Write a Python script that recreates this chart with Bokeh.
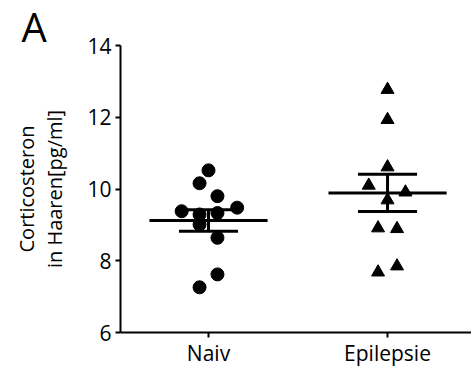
from bokeh.plotting import figure
from bokeh.models import FixedTicker
from bokeh.embed import file_html
from bokeh.resources import INLINE

# ---- data ----
categories = ["Naiv", "Epilepsie"]

naiv_values = [10.52, 10.16, 9.80, 9.48, 9.38, 9.33, 9.29, 9.01, 8.64, 7.62, 7.26]
naiv_jitter = [0.0, -0.05, 0.05, 0.16, -0.15, 0.05, -0.05, -0.05, 0.05, 0.05, -0.05]

epi_values = [12.77, 11.93, 10.61, 10.10, 9.91, 9.69, 8.91, 8.89, 7.68, 7.85]
epi_jitter = [0.0, 0.0, 0.0, -0.105, 0.10, 0.0, -0.053, 0.053, -0.053, 0.053]

group_means = [9.12, 9.89]
group_sems = [0.30, 0.52]

y_ticks = [6, 8, 10, 12, 14]

FONT = "Open Sans"

p = figure(width=471, height=369, output_backend="svg", toolbar_location=None,
           x_range=(-0.4916, 1.469), y_range=(6, 14),
           min_border_left=120, min_border_right=0, min_border_top=45,
           min_border_bottom=37, title="A")
p.outline_line_color = None
p.xgrid.grid_line_color = None
p.ygrid.grid_line_color = None
p.background_fill_color = "white"
p.border_fill_color = "white"

# panel letter as title
p.title.align = "left"
p.title.offset = -99
p.title.standoff = -16
p.title.text_font = FONT
p.title.text_font_size = "40px"
p.title.text_font_style = "normal"
p.title.text_color = "black"

# axes
p.xaxis.ticker = FixedTicker(ticks=list(range(len(categories))))
p.xaxis.major_label_overrides = {i: c for i, c in enumerate(categories)}
p.yaxis.ticker = FixedTicker(ticks=y_ticks)
for ax in (p.xaxis[0], p.yaxis[0]):
    ax.axis_line_width = 2
    ax.axis_line_color = "black"
    ax.major_tick_line_width = 2
    ax.major_tick_line_color = "black"
    ax.major_tick_out = 5
    ax.major_tick_in = 0
    ax.minor_tick_out = 0
    ax.minor_tick_in = 0
    ax.major_label_text_font = FONT
    ax.major_label_text_font_size = "21px"
    ax.major_label_text_color = "black"
p.xaxis.major_label_standoff = 1
p.yaxis.major_label_standoff = 4

p.yaxis.axis_label = "Corticosteron\nin Haaren[pg/ml]"
p.yaxis.axis_label_text_font = FONT
p.yaxis.axis_label_text_font_size = "20px"
p.yaxis.axis_label_text_font_style = "normal"
p.yaxis.axis_label_text_color = "black"
p.yaxis.axis_label_text_line_height = 1.07
p.yaxis.axis_label_standoff = 16

# points
p.scatter([0 + j for j in naiv_jitter], naiv_values, marker="circle", size=13,
          fill_color="black", line_color="black")
p.scatter([1 + j for j in epi_jitter], epi_values, marker="triangle", size=13,
          fill_color="black", line_color="black")

# mean and SEM
xs = list(range(len(categories)))
hi = [m + s for m, s in zip(group_means, group_sems)]
lo = [m - s for m, s in zip(group_means, group_sems)]
p.segment([x - 0.33 for x in xs], group_means, [x + 0.33 for x in xs], group_means,
          line_color="black", line_width=3)
p.segment(xs, lo, xs, hi, line_color="black", line_width=3)
p.segment([x - 0.165 for x in xs], hi, [x + 0.165 for x in xs], hi,
          line_color="black", line_width=3)
p.segment([x - 0.165 for x in xs], lo, [x + 0.165 for x in xs], lo,
          line_color="black", line_width=3)

open("out.html", "w").write(file_html(p, INLINE))
